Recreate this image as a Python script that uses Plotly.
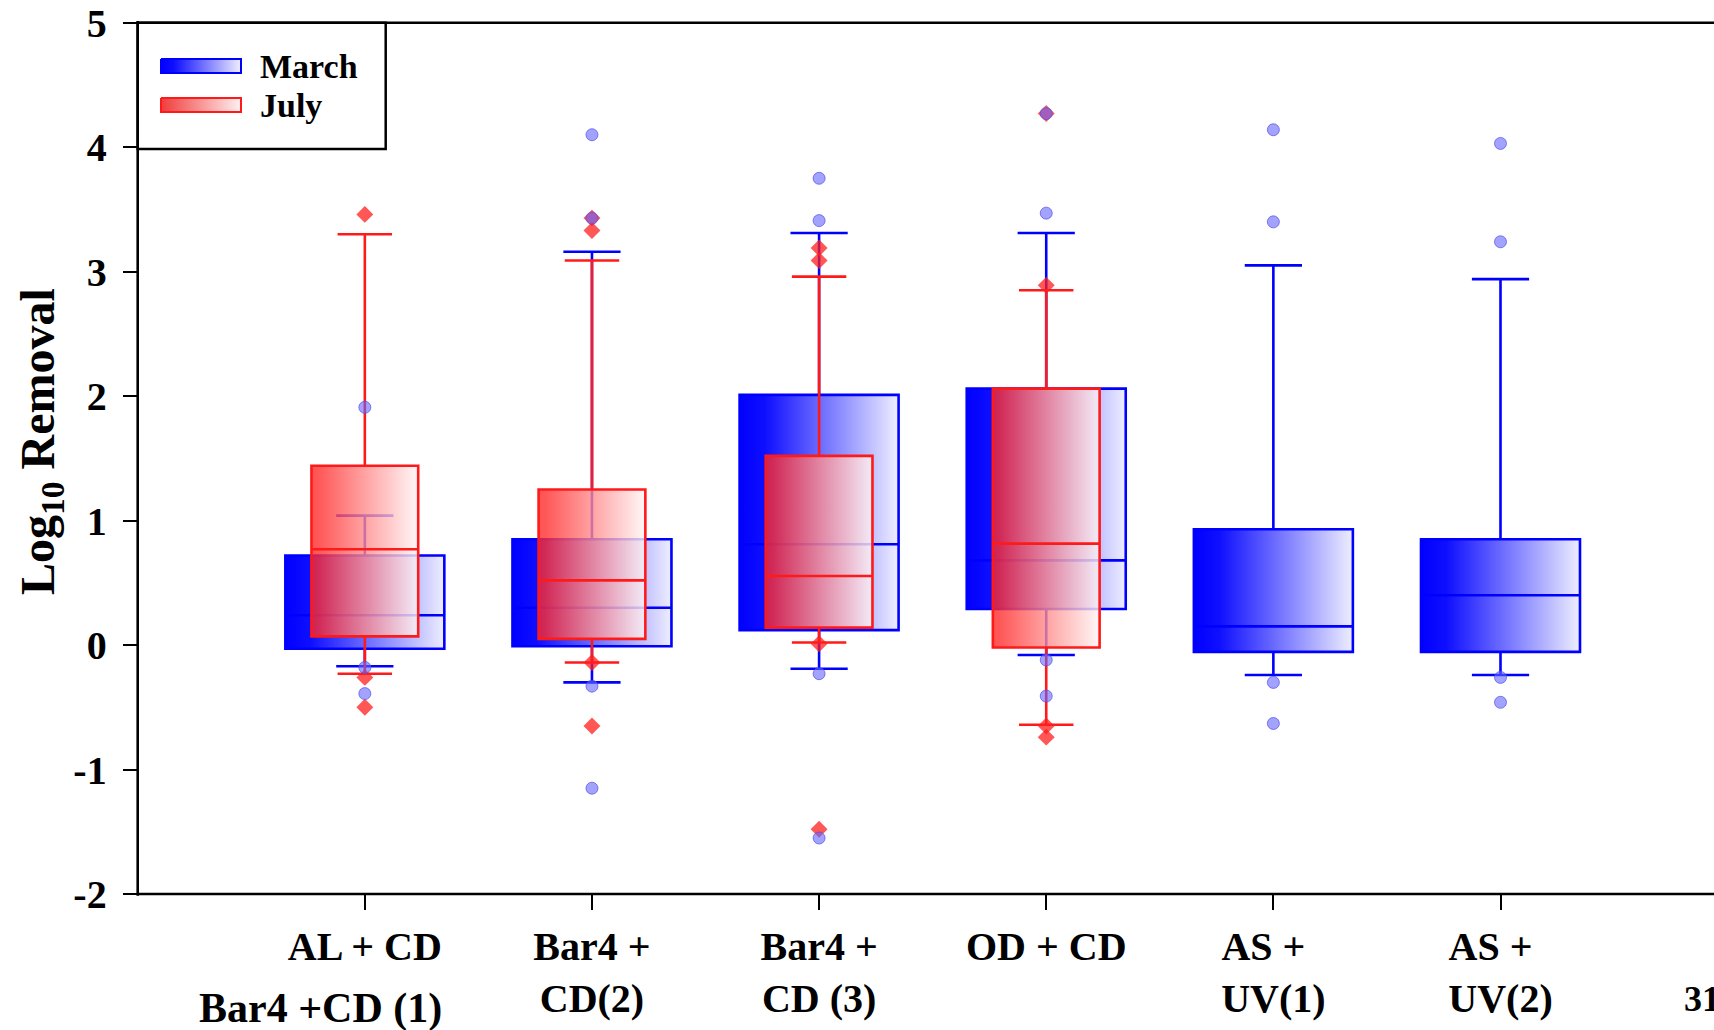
import plotly.graph_objects as go

# ---------------- data ----------------
categories = ["AL + CD", "Bar4 +<br>CD(2)", "Bar4 +<br>CD (3)", "OD + CD",
              "AS +\u00a0\u00a0<br>UV(1)", "AS +\u00a0\u00a0<br>UV(2)"]
cat_pos = [0, 1, 2, 3, 4, 5]
july_pos = [0, 1, 2, 3]

march_q1 = [-0.03, -0.01, 0.12, 0.29, -0.055, -0.055]
march_median = [0.24, 0.30, 0.81, 0.68, 0.15, 0.40]
march_q3 = [0.72, 0.85, 2.01, 2.06, 0.93, 0.85]
march_lower = [-0.17, -0.30, -0.19, -0.08, -0.24, -0.24]
march_upper = [1.04, 3.16, 3.31, 3.31, 3.05, 2.94]
march_outliers = [[1.91, -0.18, -0.39],
                  [4.10, 3.43, -0.33, -1.15],
                  [3.75, 3.41, -0.23, -1.55],
                  [4.27, 3.47, -0.12, -0.41],
                  [4.14, 3.40, -0.30, -0.63],
                  [4.03, 3.24, -0.26, -0.46]]

july_q1 = [0.07, 0.05, 0.14, -0.02]
july_median = [0.77, 0.52, 0.555, 0.815]
july_q3 = [1.44, 1.25, 1.52, 2.06]
july_lower = [-0.23, -0.14, 0.02, -0.64]
july_upper = [3.30, 3.09, 2.96, 2.85]
july_outliers = [[3.46, -0.26, -0.50],
                 [3.43, 3.33, -0.14, -0.65],
                 [3.19, 3.09, 0.01, -1.48],
                 [4.27, 2.89, -0.65, -0.74]]

y_ticks = [-2, -1, 0, 1, 2, 3, 4, 5]

# ---------------- style ----------------
W, H = 1714, 1030
FONT = "Liberation Serif"
MARCH_W = 0.70
JULY_W = 0.47
BLUE = "#0000ff"
RED = "#ff1a1a"
blue_scale = [[0, "rgb(0,0,255)"], [0.16, "rgb(15,15,255)"], [1, "rgb(238,238,255)"]]
red_scale = [[0, "rgb(255,40,40)"], [0.06, "rgb(255,45,45)"], [1, "rgb(255,245,245)"]]

fig = go.Figure()


def gradient_boxes(pos, q1, q3, width, scale, opacity, z):
    for p, lo, hi in zip(pos, q1, q3):
        fig.add_trace(go.Scatter(
            x=[p - width / 2, p + width / 2, p + width / 2, p - width / 2, p - width / 2],
            y=[lo, lo, hi, hi, lo],
            mode="lines", line=dict(width=0), fill="toself",
            fillgradient=dict(type="horizontal", colorscale=scale),
            opacity=opacity, hoverinfo="skip", showlegend=False, zorder=z))


# March
gradient_boxes(cat_pos, march_q1, march_q3, MARCH_W, blue_scale, 1.0, 0)
fig.add_trace(go.Box(
    x=cat_pos, q1=march_q1, median=march_median, q3=march_q3,
    lowerfence=march_lower, upperfence=march_upper,
    width=MARCH_W, whiskerwidth=0.36, boxpoints=False,
    fillcolor="rgba(0,0,0,0)", line=dict(color=BLUE, width=2.6),
    name="March", showlegend=False, zorder=1))

# July
gradient_boxes(july_pos, july_q1, july_q3, JULY_W, red_scale, 0.8, 2)
fig.add_trace(go.Box(
    x=july_pos, q1=july_q1, median=july_median, q3=july_q3,
    lowerfence=july_lower, upperfence=july_upper,
    width=JULY_W, whiskerwidth=0.51, boxpoints=False,
    fillcolor="rgba(0,0,0,0)", line=dict(color=RED, width=2.6),
    name="July", showlegend=False, zorder=3))

# outliers
fig.add_trace(go.Scatter(
    x=[p for p, o in zip(july_pos, july_outliers) for _ in o],
    y=[v for o in july_outliers for v in o],
    mode="markers",
    marker=dict(symbol="diamond", size=13, color="rgba(255,30,30,0.75)", line=dict(width=0)),
    showlegend=False, zorder=4))
fig.add_trace(go.Scatter(
    x=[p for p, o in zip(cat_pos, march_outliers) for _ in o],
    y=[v for o in march_outliers for v in o],
    mode="markers",
    marker=dict(symbol="circle", size=12, color="rgba(100,100,255,0.6)",
                line=dict(width=1, color="rgba(80,80,230,0.7)")),
    showlegend=False, zorder=5))

# ---------------- legend (pixel overlay axes) ----------------
fig.add_trace(go.Scatter(
    x=[161, 241, 241, 161, 161], y=[59, 59, 73, 73, 59], xaxis="x2", yaxis="y2",
    mode="lines", line=dict(color=BLUE, width=2), fill="toself",
    fillgradient=dict(type="horizontal", colorscale=blue_scale),
    hoverinfo="skip", showlegend=False))
fig.add_trace(go.Scatter(
    x=[161, 241, 241, 161, 161], y=[98, 98, 112, 112, 98], xaxis="x2", yaxis="y2",
    mode="lines", line=dict(color=RED, width=2), fill="toself",
    fillgradient=dict(type="horizontal",
                      colorscale=[[0, "rgb(240,60,60)"], [1, "rgb(255,240,240)"]]),
    hoverinfo="skip", showlegend=False))

fig.add_shape(type="rect", xref="x2", yref="y2", x0=137.7, x1=385.7, y0=22.7, y1=149,
              line=dict(color="black", width=2.5), fillcolor="rgba(0,0,0,0)")

# axis frame lines (left, bottom, top) on the main axes' domain
frame = dict(color="black", width=2.6)
fig.add_shape(type="line", xref="x domain", yref="y domain", x0=0, x1=0, y0=-0.002, y1=1.002, line=frame)
fig.add_shape(type="line", xref="x domain", yref="y domain", x0=0, x1=1, y0=0, y1=0, line=frame)
fig.add_shape(type="line", xref="x domain", yref="y domain", x0=0, x1=1, y0=1, y1=1, line=frame)

ann_font = dict(family=FONT, color="black", weight="bold")
fig.add_annotation(xref="x2", yref="y2", x=258, y=66.5, xanchor="left", yanchor="middle",
                   text="March", showarrow=False, font=dict(size=34, **ann_font))
fig.add_annotation(xref="x2", yref="y2", x=258, y=105.5, xanchor="left", yanchor="middle",
                   text="July", showarrow=False, font=dict(size=34, **ann_font))

# y-axis title
fig.add_annotation(xref="x2", yref="y2", x=41, y=442, xanchor="center", yanchor="middle",
                   text="Log<sub>10</sub> Removal", textangle=-90, showarrow=False,
                   font=dict(size=48, **ann_font))
# stray slide texts
fig.add_annotation(xref="x2", yref="y2", x=320, y=1008, xanchor="center", yanchor="middle",
                   text="Bar4 +CD (1)", showarrow=False, font=dict(size=42, **ann_font))
fig.add_annotation(xref="x2", yref="y2", x=1682, y=999, xanchor="left", yanchor="middle",
                   text="31", showarrow=False, font=dict(size=36, **ann_font))

xtickfont = dict(family=FONT, size=40, color="black", weight="bold")
ytickfont = dict(family=FONT, size=40, color="black", weight="bold")
fig.update_layout(
    template="none",
    width=W, height=H, margin=dict(l=0, r=0, t=0, b=0, pad=0),
    paper_bgcolor="white", plot_bgcolor="rgba(0,0,0,0)",
    boxmode="overlay", showlegend=False,
    xaxis=dict(domain=[137.7 / W, 1.0], range=[-1.0, 5.94], anchor="y",
               tickmode="array", tickvals=cat_pos, ticktext=categories,
               showline=False,
               ticks="outside", ticklen=15, tickwidth=2, tickcolor="black",
               ticklabelstandoff=2, tickfont=xtickfont, automargin=False,
               showgrid=False, zeroline=False),
    yaxis=dict(domain=[1 - 894 / H, 1 - 22.7 / H], range=[-2, 5], anchor="x",
               tickmode="array", tickvals=y_ticks, ticktext=[str(t) for t in y_ticks],
               showline=False,
               ticks="outside", ticklen=14, tickwidth=2, tickcolor="black",
               ticklabelstandoff=8, tickfont=ytickfont, automargin=False,
               showgrid=False, zeroline=False),
    xaxis2=dict(domain=[0, 1], range=[0, W], visible=False, fixedrange=True,
                anchor="y2", automargin=False),
    yaxis2=dict(domain=[0, 1], range=[H, 0], visible=False, fixedrange=True,
                anchor="x2", automargin=False),
)

fig.write_html("out.html")
